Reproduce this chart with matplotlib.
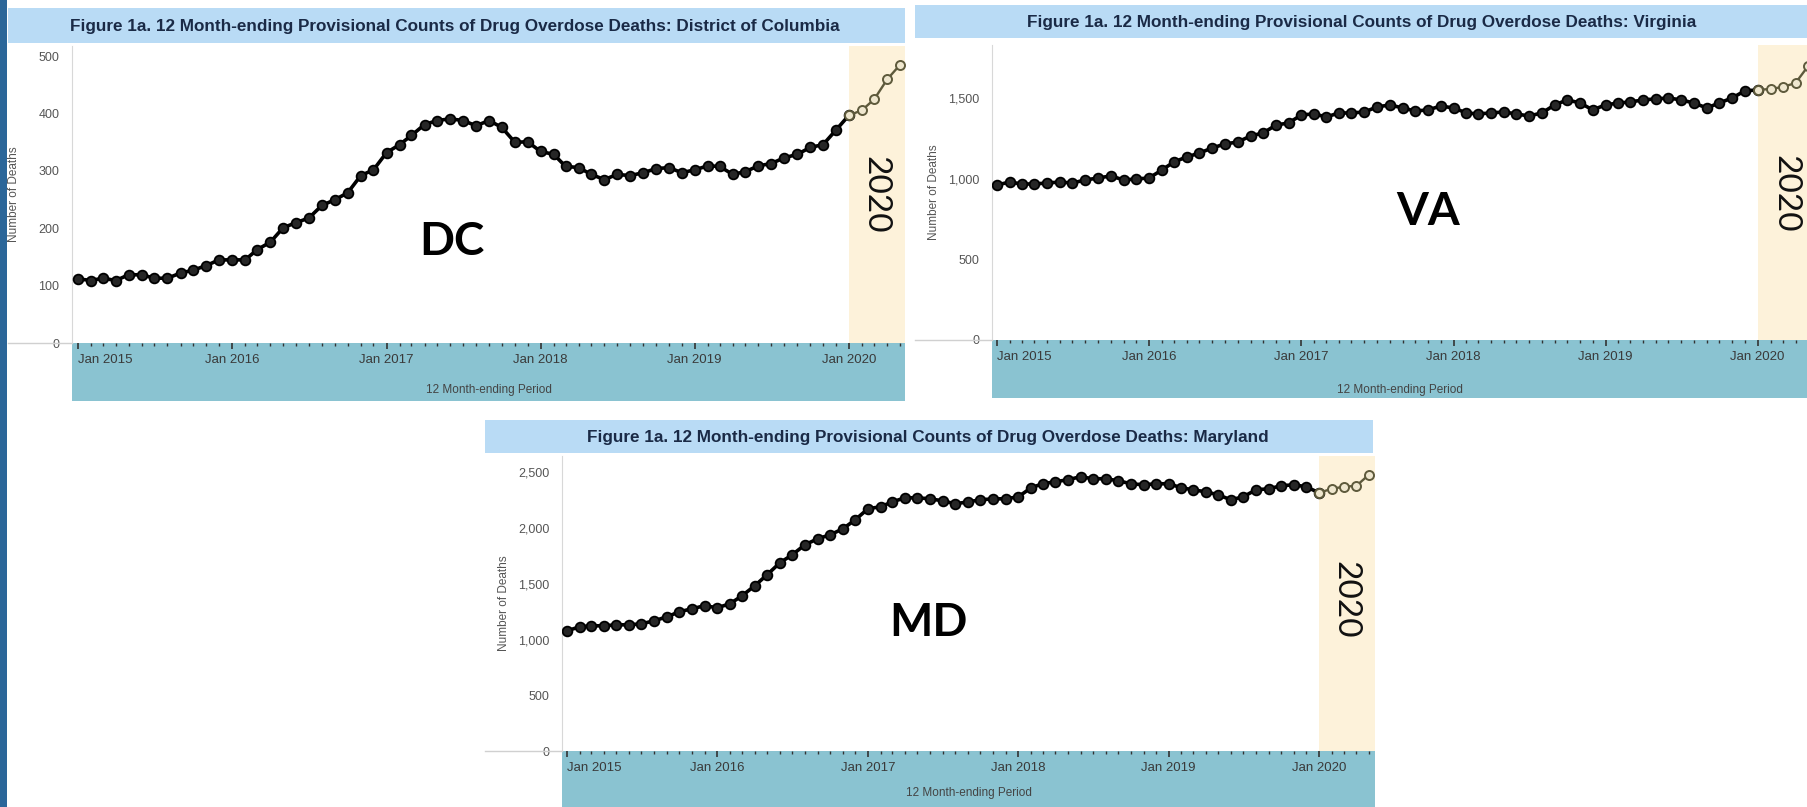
import matplotlib.pyplot as plt
import matplotlib.dates as mdates
from matplotlib.patches import Rectangle
from matplotlib.lines import Line2D
from matplotlib.ticker import FuncFormatter
import pandas as pd

plt.rcParams["font.family"] = ["Liberation Sans", "DejaVu Sans"]

W, H = 1808, 807

months = pd.date_range("2015-01-01", periods=65, freq="MS")
start_2020 = pd.Timestamp("2020-01-01")
year_labels = ["Jan 2015", "Jan 2016", "Jan 2017", "Jan 2018", "Jan 2019", "Jan 2020"]

dc_deaths = [112, 109, 113, 109, 119, 119, 113, 113, 122, 127, 135, 145,
             145, 145, 163, 176, 201, 210, 218, 240, 250, 262, 292, 302,
             332, 346, 362, 381, 388, 391, 388, 379, 388, 376, 350, 351,
             334, 329, 308, 306, 294, 285, 294, 292, 297, 304, 306, 297,
             302, 309, 308, 294, 299, 309, 313, 323, 329, 341, 346, 371,
             397, 406, 425, 460, 485]
va_deaths = [963, 981, 969, 969, 975, 981, 975, 994, 1006, 1019, 994, 1000,
             1006, 1056, 1106, 1137, 1161, 1193, 1217, 1230, 1267, 1286, 1335, 1348,
             1398, 1404, 1385, 1410, 1410, 1416, 1447, 1460, 1441, 1422, 1429, 1453,
             1441, 1410, 1404, 1410, 1416, 1404, 1391, 1410, 1460, 1491, 1472, 1429,
             1460, 1472, 1478, 1491, 1497, 1503, 1491, 1472, 1441, 1472, 1503, 1547,
             1553, 1559, 1571, 1596, 1700]
md_deaths = [1078, 1114, 1123, 1123, 1132, 1132, 1141, 1168, 1204, 1249, 1276, 1303,
             1285, 1321, 1392, 1482, 1581, 1688, 1760, 1850, 1904, 1939, 1993, 2074,
             2173, 2191, 2235, 2271, 2271, 2262, 2244, 2217, 2235, 2253, 2262, 2262,
             2280, 2361, 2397, 2415, 2433, 2460, 2442, 2442, 2424, 2397, 2388, 2397,
             2397, 2361, 2343, 2325, 2298, 2253, 2280, 2343, 2352, 2379, 2388, 2370,
             2316, 2352, 2370, 2379, 2478]

TITLE_BG = "#b9dbf5"
TITLE_FG = "#1a2a46"
TEAL = "#8ac3d1"
CREAM = "#fdf2da"
OLIVE = "#5e5a3c"


def box(x0, y0, x1, y1):
    return [x0 / W, 1 - y1 / H, (x1 - x0) / W, (y1 - y0) / H]


def rect(x0, y0, x1, y1, color):
    fig.add_artist(Rectangle((x0 / W, 1 - y1 / H), (x1 - x0) / W, (y1 - y0) / H,
                             transform=fig.transFigure, color=color, lw=0, zorder=-1))


def ftext(x, y, s, **kw):
    fig.text(x / W, 1 - y / H, s, ha="center", va="center", **kw)


fig = plt.figure(figsize=(W / 100, H / 100), dpi=100)
fig.patch.set_facecolor("white")

# dark strip on the left edge
rect(0, 0, 7, H, "#2b6699")


def panel(values, ax_box, ytop, yticks, title, title_box, title_x, label, label_xy,
          yr_xy, xl_y, pad_days):
    x0, y0, x1, y1 = ax_box
    tx0, ty0, tx1, ty1 = title_box
    rect(tx0, ty0, tx1, ty1, TITLE_BG)
    ftext(title_x, (ty0 + ty1) / 2 + 1, title, fontsize=12.3, fontweight="bold",
          color=TITLE_FG)
    rect(x0, y1, x1, min(y1 + 58, H), TEAL)
    fig.add_artist(Line2D([tx0 / W, x0 / W], [1 - y1 / H, 1 - y1 / H],
                          transform=fig.transFigure, color="#d0d0d0", lw=1))

    ax = fig.add_axes(box(x0, y0, x1, y1))
    left = months[0] - pd.Timedelta(days=pad_days[0])
    right = months[-1] + pd.Timedelta(days=pad_days[1])
    ax.set_xlim(left, right)
    ax.set_ylim(0, ytop)
    ax.axvspan(start_2020, right, color=CREAM, lw=0, zorder=0)

    ax.plot(months[:61], values[:61], color="black", lw=2.6, marker="o",
            markersize=7, mfc="#262626", mec="black", mew=1.3, zorder=3)
    ax.plot(months[60:], values[60:], color=OLIVE, lw=1.7, marker="o",
            markersize=6.5, mfc="#efe7cf", mec=OLIVE, mew=1.4, zorder=4)

    for s in ["top", "right", "bottom"]:
        ax.spines[s].set_visible(False)
    ax.spines["left"].set_color("#d8d8d8")

    ax.set_yticks(yticks)
    ax.yaxis.set_major_formatter(FuncFormatter(lambda v, p: f"{int(v):,}"))
    ax.tick_params(axis="y", length=0, pad=9, labelsize=9, labelcolor="#555555")

    ax.xaxis.set_major_locator(mdates.YearLocator())
    ax.xaxis.set_minor_locator(mdates.MonthLocator())
    ax.set_xticks(pd.date_range("2015-01-01", periods=6, freq="YS"))
    ax.set_xticklabels(year_labels)
    ax.tick_params(axis="x", which="major", length=4, width=1.2, color="#333333",
                   pad=4, labelsize=9.5, labelcolor="#3a3a3a")
    ax.tick_params(axis="x", which="minor", length=2, width=1, color="#333333")
    ax.get_xticklabels()[0].set_horizontalalignment("left")

    ax.set_ylabel("Number of Deaths", fontsize=8.5, color="#555555")
    ax.yaxis.set_label_coords(-52 / (x1 - x0), 0.5)

    ftext((x0 + min(x1, W)) / 2, xl_y, "12 Month-ending Period", fontsize=8.5,
          color="#444444")
    ftext(label_xy[0], label_xy[1], label, fontsize=33, fontweight="bold",
          color="black", family="Lato")
    ftext(yr_xy[0], yr_xy[1], "2020", fontsize=24, rotation=270, color="#111111",
          family="Lato")
    return ax


panel(dc_deaths, (72, 46, 905, 343), 518, [0, 100, 200, 300, 400, 500],
      "Figure 1a. 12 Month-ending Provisional Counts of Drug Overdose Deaths: District of Columbia",
      (8, 8, 905, 43), 455, "DC", (452, 242), (875, 195), 390, (14, 12))

panel(va_deaths, (992, 45, 1813, 340), 1832, [0, 500, 1000, 1500],
      "Figure 1a. 12 Month-ending Provisional Counts of Drug Overdose Deaths: Virginia",
      (915, 5, 1808, 38), 1362, "VA", (1428, 212), (1785, 194), 390, (12, 12))

panel(md_deaths, (562, 456, 1375, 751), 2646, [0, 500, 1000, 1500, 2000, 2500],
      "Figure 1a. 12 Month-ending Provisional Counts of Drug Overdose Deaths: Maryland",
      (485, 420, 1373, 453), 928, "MD", (928, 623), (1345, 600), 793, (12, 15))

fig.savefig("out.png", dpi=100)
